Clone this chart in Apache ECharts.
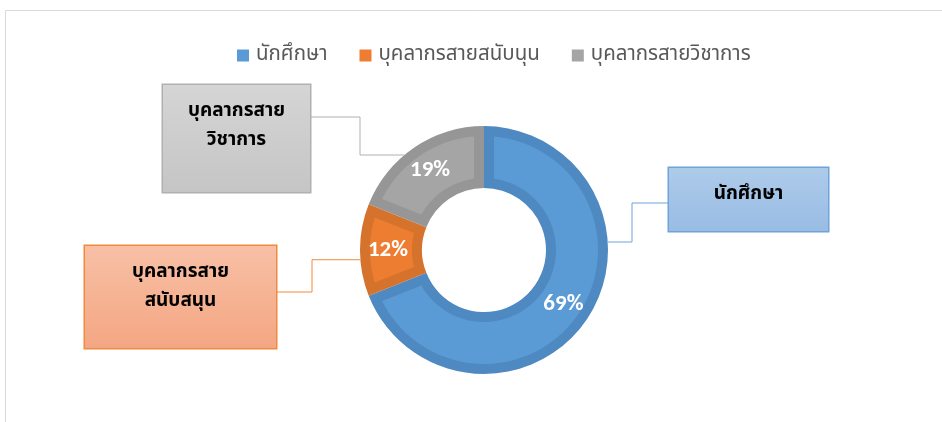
<!DOCTYPE html>
<html>
<head>
<meta charset="utf-8">
<script src="https://cdn.jsdelivr.net/npm/echarts@6/dist/echarts.min.js"></script>
<style>
  html, body { margin: 0; padding: 0; background: #fff; }
  #chart { width: 942px; height: 422px; }
</style>
</head>
<body>
<div id="chart"></div>
<script>
  // data
  const categories = ['นักศึกษา', 'บุคลากรสายสนับนุน', 'บุคลากรสายวิชาการ'];
  const shares = [69, 12, 19];
  const calloutTexts = ['นักศึกษา', 'บุคลากรสาย\nสนับสนุน', 'บุคลากรสาย\nวิชาการ'];

  // look
  const fillColors = ['#5B9BD5', '#ED7D31', '#A5A5A5'];
  const bandColors = ['#4E89C1', '#D5722C', '#969696'];
  const boxGrad = [['#AECBEA', '#98BCE4'], ['#F8C0A6', '#F4A682'], ['#D5D5D5', '#C5C5C5']];
  const boxBorder = ['#6FA3DA', '#F08A3E', '#B0B0B0'];

  const CX = 484, CY = 250, R_IN = 62, R_OUT = 124, BAND = 10;
  const FONT = 'Tahoma, "Leelawadee UI", "Noto Sans Thai", Garuda, Loma, "Noto Sans", sans-serif';

  // callout boxes: box rect, angle where the leader leaves the ring, elbow x, y where it meets the box
  const callouts = [
    { x: 669, y: 168, w: 159, h: 63, angle: 3.7, elbowX: 632, lineY: 203 },
    { x: 85, y: 246, w: 191, h: 102, angle: 184.5, elbowX: 312, lineY: 292 },
    { x: 163, y: 85, w: 147, h: 107, angle: 130, elbowX: 360, lineY: 117 }
  ];

  const total = shares.reduce((a, b) => a + b, 0);
  const startShare = shares.map((v, i) => shares.slice(0, i).reduce((a, b) => a + b, 0));

  // lighter inner face of a slice, inset by BAND px from every edge
  function insetSlice(params, api) {
    const i = params.dataIndex;
    const a0 = 90 - startShare[i] / total * 360;
    const a1 = 90 - (startShare[i] + api.value(0)) / total * 360;
    const ro = R_OUT - BAND, ri = R_IN + BAND;
    const deg = 180 / Math.PI;
    const pt = (r, a) => [CX + r * Math.cos(a / deg), CY - r * Math.sin(a / deg)];
    const pts = [];
    const oa = a0 - Math.asin(BAND / ro) * deg, ob = a1 + Math.asin(BAND / ro) * deg;
    const ia = a0 - Math.asin(BAND / ri) * deg, ib = a1 + Math.asin(BAND / ri) * deg;
    const n = 60;
    for (let k = 0; k <= n; k++) pts.push(pt(ro, oa + (ob - oa) * k / n));
    for (let k = 0; k <= n; k++) pts.push(pt(ri, ib + (ia - ib) * k / n));
    return {
      type: 'polygon',
      shape: { points: pts },
      style: { fill: fillColors[i], stroke: null }
    };
  }

  const chart = echarts.init(document.getElementById('chart'));

  chart.setOption({
    animation: false,
    textStyle: { fontFamily: FONT },
    legend: {
      top: 40,
      left: 232,
      itemWidth: 12,
      itemHeight: 12,
      itemGap: 32,
      icon: 'rect',
      data: categories.map((name, i) => ({ name: name, itemStyle: { color: fillColors[i] } })),
      textStyle: { fontSize: 20.5, color: '#595959', fontFamily: FONT, padding: [0, 0, 0, 2] }
    },
    graphic: [
      { type: 'polyline', silent: true, shape: { points: [[5.5, 422], [5.5, 10.5], [942, 10.5]] },
        style: { stroke: '#D9D9D9', lineWidth: 1, fill: null } }
    ],
    series: [
      {
        // dark outer band of each slice
        type: 'pie',
        center: [CX, CY],
        radius: [R_IN, R_OUT],
        startAngle: 90,
        clockwise: true,
        silent: true,
        z: 2,
        label: { show: false },
        labelLine: { show: false },
        data: categories.map((name, i) => ({
          name: name, value: shares[i], itemStyle: { color: bandColors[i] }
        }))
      },
      {
        type: 'custom',
        coordinateSystem: 'none',
        silent: true,
        z: 3,
        renderItem: insetSlice,
        data: shares.map(v => [v])
      },
      {
        // percentage labels
        type: 'pie',
        center: [CX, CY],
        radius: [R_IN, R_OUT],
        startAngle: 90,
        clockwise: true,
        silent: true,
        z: 4,
        itemStyle: { color: 'rgba(0,0,0,0)' },
        label: {
          show: true,
          position: 'inside',
          formatter: '{c}%',
          color: '#fff',
          fontSize: 23,
          fontWeight: 'bold',
          fontFamily: 'Calibri, Carlito, "Open Sans", sans-serif'
        },
        labelLine: { show: false },
        data: categories.map((name, i) => ({ name: name, value: shares[i] }))
      },
      {
        // callout boxes
        type: 'pie',
        center: [CX, CY],
        radius: [R_IN, R_OUT],
        startAngle: 90,
        clockwise: true,
        silent: true,
        z: 4,
        itemStyle: { color: 'rgba(0,0,0,0)', borderWidth: 0 },
        label: {
          show: true,
          position: 'outside',
          formatter: (p) => calloutTexts[p.dataIndex],
          color: '#000',
          fontSize: 19,
          fontWeight: 'bold',
          lineHeight: 29
        },
        labelLine: { show: true, lineStyle: { width: 1 } },
        labelLayout: function (params) {
          const c = callouts[params.dataIndex];
          const a = c.angle * Math.PI / 180;
          const sx = CX + R_OUT * Math.cos(a);
          const sy = CY - R_OUT * Math.sin(a);
          const boxEdge = c.x > CX ? c.x : c.x + c.w;
          return {
            x: c.x + c.w / 2,
            y: c.y,
            align: 'center',
            verticalAlign: 'top',
            labelLinePoints: [[sx, sy], [c.elbowX, sy], [c.elbowX, c.lineY], [boxEdge, c.lineY]]
          };
        },
        data: categories.map((name, i) => ({
          name: name,
          value: shares[i],
          label: {
            width: callouts[i].w,
            height: callouts[i].h - 13,
            padding: [13, 0, 0, 0],
            borderColor: boxBorder[i],
            borderWidth: 1.5,
            backgroundColor: {
              type: 'linear', x: 0, y: 0, x2: 0, y2: 1,
              colorStops: [{ offset: 0, color: boxGrad[i][0] }, { offset: 1, color: boxGrad[i][1] }]
            }
          },
          labelLine: { lineStyle: { color: boxBorder[i] } }
        }))
      }
    ]
  });
</script>
</body>
</html>
